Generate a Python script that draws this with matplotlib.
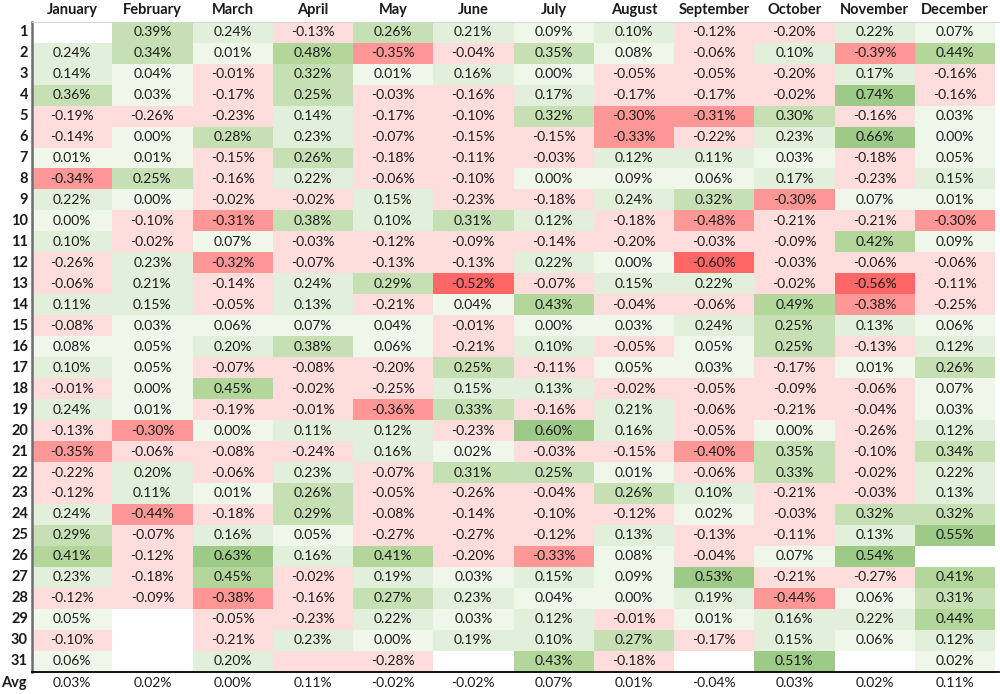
import numpy as np
import matplotlib
matplotlib.use('Agg')
import matplotlib.pyplot as plt
from matplotlib.colors import ListedColormap, BoundaryNorm

plt.rcParams['font.family'] = ['Lato', 'DejaVu Sans']

months = ['January', 'February', 'March', 'April', 'May', 'June', 'July',
          'August', 'September', 'October', 'November', 'December']
days = [str(d) for d in range(1, 32)]

# average daily return (%) per calendar day, one list per month; None = no data
january = [None, 0.24, 0.14, 0.36, -0.19, -0.14, 0.01, -0.34, 0.22, 0.00, 0.10, -0.26, -0.06, 0.11, -0.08, 0.08,
           0.10, -0.01, 0.24, -0.13, -0.35, -0.22, -0.12, 0.24, 0.29, 0.41, 0.23, -0.12, 0.05, -0.10, 0.06]
february = [0.39, 0.34, 0.04, 0.03, -0.26, 0.00, 0.01, 0.25, 0.00, -0.10, -0.02, 0.23, 0.21, 0.15, 0.03, 0.05,
            0.05, 0.00, 0.01, -0.30, -0.06, 0.20, 0.11, -0.44, -0.07, -0.12, -0.18, -0.09, None, None, None]
march = [0.24, 0.01, -0.01, -0.17, -0.23, 0.28, -0.15, -0.16, -0.02, -0.31, 0.07, -0.32, -0.14, -0.05, 0.06, 0.20,
         -0.07, 0.45, -0.19, 0.00, -0.08, -0.06, 0.01, -0.18, 0.16, 0.63, 0.45, -0.38, -0.05, -0.21, 0.20]
april = [-0.13, 0.48, 0.32, 0.25, 0.14, 0.23, 0.26, 0.22, -0.02, 0.38, -0.03, -0.07, 0.24, 0.13, 0.07, 0.38,
         -0.08, -0.02, -0.01, 0.11, -0.24, 0.23, 0.26, 0.29, 0.05, 0.16, -0.02, -0.16, -0.23, 0.23, None]
may = [0.26, -0.35, 0.01, -0.03, -0.17, -0.07, -0.18, -0.06, 0.15, 0.10, -0.12, -0.13, 0.29, -0.21, 0.04, 0.06,
       -0.20, -0.25, -0.36, 0.12, 0.16, -0.07, -0.05, -0.08, -0.27, 0.41, 0.19, 0.27, 0.22, 0.00, -0.28]
june = [0.21, -0.04, 0.16, -0.16, -0.10, -0.15, -0.11, -0.10, -0.23, 0.31, -0.09, -0.13, -0.52, 0.04, -0.01, -0.21,
        0.25, 0.15, 0.33, -0.23, 0.02, 0.31, -0.26, -0.14, -0.27, -0.20, 0.03, 0.23, 0.03, 0.19, None]
july = [0.09, 0.35, 0.00, 0.17, 0.32, -0.15, -0.03, 0.00, -0.18, 0.12, -0.14, 0.22, -0.07, 0.43, 0.00, 0.10,
        -0.11, 0.13, -0.16, 0.60, -0.03, 0.25, -0.04, -0.10, -0.12, -0.33, 0.15, 0.04, 0.12, 0.10, 0.43]
august = [0.10, 0.08, -0.05, -0.17, -0.30, -0.33, 0.12, 0.09, 0.24, -0.18, -0.20, 0.00, 0.15, -0.04, 0.03, -0.05,
          0.05, -0.02, 0.21, 0.16, -0.15, 0.01, 0.26, -0.12, 0.13, 0.08, 0.09, 0.00, -0.01, 0.27, -0.18]
september = [-0.12, -0.06, -0.05, -0.17, -0.31, -0.22, 0.11, 0.06, 0.32, -0.48, -0.03, -0.60, 0.22, -0.06, 0.24, 0.05,
             0.03, -0.05, -0.06, -0.05, -0.40, -0.06, 0.10, 0.02, -0.13, -0.04, 0.53, 0.19, 0.01, -0.17, None]
october = [-0.20, 0.10, -0.20, -0.02, 0.30, 0.23, 0.03, 0.17, -0.30, -0.21, -0.09, -0.03, -0.02, 0.49, 0.25, 0.25,
           -0.17, -0.09, -0.21, 0.00, 0.35, 0.33, -0.21, -0.03, -0.11, 0.07, -0.21, -0.44, 0.16, 0.15, 0.51]
november = [0.22, -0.39, 0.17, 0.74, -0.16, 0.66, -0.18, -0.23, 0.07, -0.21, 0.42, -0.06, -0.56, -0.38, 0.13, -0.13,
            0.01, -0.06, -0.04, -0.26, -0.10, -0.02, -0.03, 0.32, 0.13, 0.54, -0.27, 0.06, 0.22, 0.06, None]
december = [0.07, 0.44, -0.16, -0.16, 0.03, 0.00, 0.05, 0.15, 0.01, -0.30, 0.09, -0.06, -0.11, -0.25, 0.06, 0.12,
            0.26, 0.07, 0.03, 0.12, 0.34, 0.22, 0.13, 0.32, 0.55, None, 0.41, 0.31, 0.44, 0.12, 0.02]
averages = [0.03, 0.02, 0.00, 0.11, -0.02, -0.02, 0.07, 0.01, -0.04, 0.03, 0.02, 0.11]

# cells that are shaded in the source sheet but carry no number: (day, month, shade value)
shaded_blanks = [(31, 'April', -0.10)]

# colour bands of the conditional formatting
bounds = [-1.0, -0.495, -0.295, -0.005, 0.095, 0.245, 0.395, 0.495, 1.0]
band_colors = ['#FF6666', '#FF9797', '#FFDDDD', '#EFF6EA', '#E2EFDA', '#C6E0B4', '#B3D79B', '#9DCA86']

columns = [january, february, march, april, may, june, july, august,
           september, october, november, december]
grid = np.array([[np.nan if v is None else v for v in col] for col in columns], dtype=float).T
shade = grid.copy()
for day, month, val in shaded_blanks:
    shade[int(day) - 1, months.index(month)] = val

cmap = ListedColormap(band_colors)
norm = BoundaryNorm(bounds, cmap.N)

fig = plt.figure(figsize=(10, 6.94), dpi=100)
ax = fig.add_axes([0.032, 0.0321, 0.963, 0.9366])
ax.pcolormesh(np.ma.masked_invalid(shade), cmap=cmap, norm=norm,
              linewidth=0, antialiased=False)
ax.set_xlim(0, len(months))
ax.set_ylim(len(days), 0)
ax.axis('off')

txt = '#1a1a1a'
fs = 10
for j, m in enumerate(months):
    ax.text(j + 0.5, -0.56, m, ha='center', va='center', fontsize=10.5,
            fontweight='bold', color=txt, clip_on=False)
    ax.text(j + 0.5, len(days) + 0.55, '{:.2f}%'.format(averages[j]), ha='center',
            va='center', fontsize=fs, color=txt, clip_on=False)
    for i in range(len(days)):
        v = grid[i, j]
        if not np.isnan(v):
            ax.text(j + 0.5, i + 0.5, '{:.2f}%'.format(v), ha='center', va='center',
                    fontsize=fs, color=txt)

for i, d in enumerate(days):
    ax.text(-0.05, i + 0.5, d, ha='right', va='center', fontsize=10.5,
            fontweight='bold', color=txt, clip_on=False)
ax.text(-0.06, len(days) + 0.55, 'Avg', ha='right', va='center', fontsize=10.5,
        fontweight='bold', color=txt, clip_on=False)

# sheet borders
ax.plot([0, 0], [0, len(days)], color='#6e6e6e', lw=1.8, clip_on=False)
ax.plot([0, 12.05], [len(days), len(days)], color='black', lw=1.3, clip_on=False)
ax.plot([0, 12.05], [0, 0], color='#d4d4d4', lw=0.7, clip_on=False)

plt.savefig('out.png', dpi=100)
